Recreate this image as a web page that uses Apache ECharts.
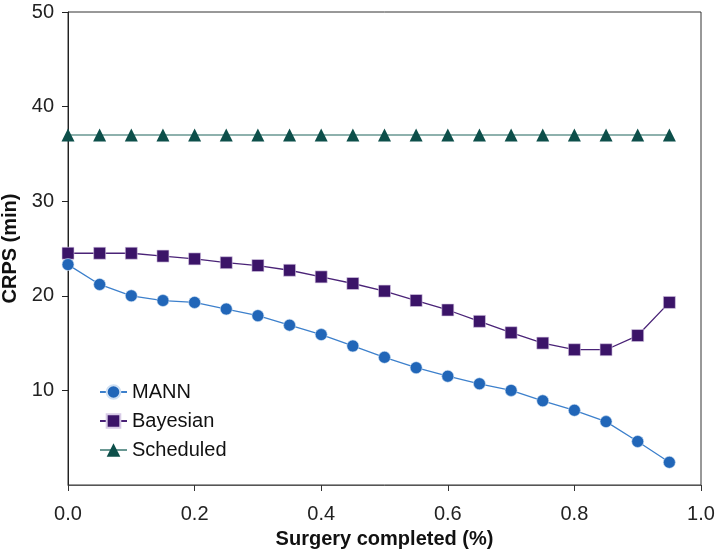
<!DOCTYPE html>
<html>
<head>
<meta charset="utf-8">
<script src="https://cdn.jsdelivr.net/npm/echarts@6/dist/echarts.min.js"></script>
<style>
html,body{margin:0;padding:0;background:#fff;}
#chart{width:716px;height:559px;}
</style>
</head>
<body>
<div id="chart"></div>
<script>
var xValues = [0, 0.05, 0.1, 0.15, 0.2, 0.25, 0.3, 0.35, 0.4, 0.45, 0.5, 0.55, 0.6, 0.65, 0.7, 0.75, 0.8, 0.85, 0.9, 0.95];
var mann = [23.3, 21.2, 20.0, 19.5, 19.3, 18.6, 17.9, 16.9, 15.9, 14.7, 13.5, 12.4, 11.5, 10.7, 10.0, 8.9, 7.9, 6.7, 4.6, 2.4];
var bayesian = [24.5, 24.5, 24.5, 24.2, 23.9, 23.5, 23.2, 22.7, 22.0, 21.3, 20.5, 19.5, 18.5, 17.3, 16.1, 15.0, 14.3, 14.3, 15.8, 19.3];
var scheduled = [37.0, 37.0, 37.0, 37.0, 37.0, 37.0, 37.0, 37.0, 37.0, 37.0, 37.0, 37.0, 37.0, 37.0, 37.0, 37.0, 37.0, 37.0, 37.0, 37.0];
var seriesNames = ['MANN', 'Bayesian', 'Scheduled'];
var xTitle = 'Surgery completed (%)';
var yTitle = 'CRPS (min)';

function pairs(ys){ return xValues.map(function(x,i){ return [x, ys[i]]; }); }

var font = 'Liberation Sans, Arial, sans-serif';
var chart = echarts.init(document.getElementById('chart'));
chart.setOption({
  animation: false,
  backgroundColor: '#fff',
  grid: { left: 68, right: 15, top: 12, bottom: 74, show: true, borderColor: '#333', borderWidth: 1,
    backgroundColor: 'transparent', containLabel: false, outerBoundsMode: 'none' },
  legend: {
    orient: 'vertical', left: 94, top: 377, itemWidth: 27, itemHeight: 17, itemGap: 9,
    textStyle: { fontFamily: font, fontSize: 20, color: '#111' },
    data: seriesNames
  },
  xAxis: {
    type: 'value', min: 0, max: 1, interval: 0.2,
    name: xTitle, nameLocation: 'middle', nameGap: 44,
    nameTextStyle: { fontFamily: font, fontSize: 20, fontWeight: 'bold', color: '#111' },
    axisLine: { lineStyle: { color: '#555', width: 1 } },
    axisTick: { inside: false, length: 6, lineStyle: { color: '#333' } },
    axisLabel: { fontFamily: font, fontSize: 20, color: '#222', margin: 19, formatter: function(v){ return v.toFixed(1); } },
    splitLine: { show: false }
  },
  yAxis: {
    type: 'value', min: 0, max: 50, interval: 10,
    name: yTitle, nameLocation: 'middle', nameGap: 44,
    nameTextStyle: { fontFamily: font, fontSize: 20, fontWeight: 'bold', color: '#111' },
    axisLine: { show: true, lineStyle: { color: '#222', width: 1 } },
    axisTick: { show: true, inside: false, length: 6, lineStyle: { color: '#222' } },
    axisLabel: { fontFamily: font, fontSize: 20, color: '#222', margin: 14, showMinLabel: false,
      formatter: function(v){ return v === 0 ? '' : String(v); } },
    splitLine: { show: false }
  },
  series: [
    { name: seriesNames[0], type: 'line', data: pairs(mann), symbol: 'circle', symbolSize: 12,
      itemStyle: { color: '#2166b8', borderColor: '#cfe0f3', borderWidth: 0.6 },
      lineStyle: { color: '#3d80cc', width: 1.3 }, z: 4 },
    { name: seriesNames[1], type: 'line', data: pairs(bayesian), symbol: 'rect', symbolSize: 12,
      itemStyle: { color: '#3b1468', borderColor: '#d8cbe6', borderWidth: 0.6 },
      lineStyle: { color: '#4a2377', width: 1.3 }, z: 3 },
    { name: seriesNames[2], type: 'line', data: pairs(scheduled), symbol: 'triangle', symbolSize: 13,
      itemStyle: { color: '#0d4f4a' },
      lineStyle: { color: '#6a9893', width: 1.6 }, z: 2 }
  ]
});
</script>
</body>
</html>
